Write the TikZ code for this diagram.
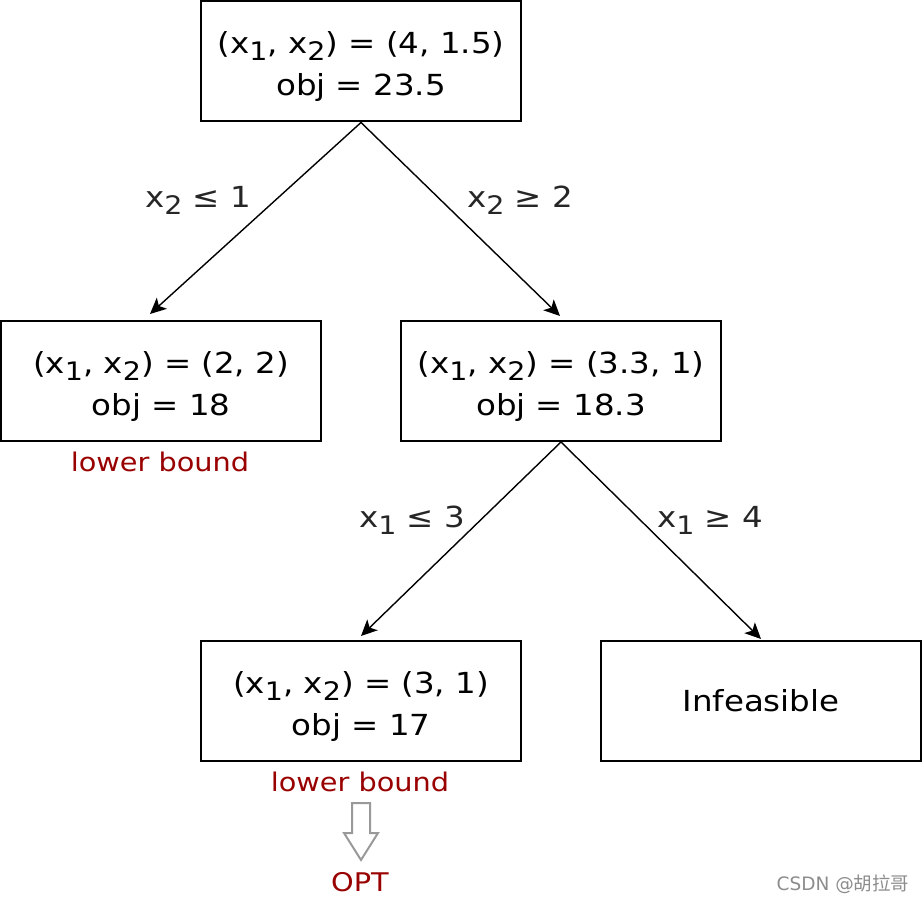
\documentclass[tikz,border=0pt]{standalone}
\usepackage{fontspec}
\setmainfont[FakeStretch=1.12]{DejaVu Sans}
\newfontfamily\plain{DejaVu Sans}
\newfontfamily\cjk{Noto Sans CJK SC}
\usetikzlibrary{arrows.meta}
\definecolor{lbred}{HTML}{990000}
\newcommand{\xs}[1]{x\raisebox{-0.45ex}{\fontsize{25.5}{27}\selectfont #1}}
\newcommand{\twol}[2]{\raisebox{-5pt}[\height][\depth]{\begin{tabular}{@{}c@{}}#1\\[2pt]#2\end{tabular}}}
\begin{document}
\begin{tikzpicture}[x=1pt,y=-1pt,
  box/.style={draw=black,line width=2pt,minimum width=320pt,minimum height=120pt,inner sep=0pt,align=center,font=\fontsize{29}{40}\selectfont},
  edge/.style={line width=1.4pt,-{Stealth[length=16pt,width=15pt,inset=4pt]}},
  elabel/.style={font=\fontsize{29}{32}\selectfont,text=black!85},
  lb/.style={font=\fontsize{25.7}{30}\selectfont,text=lbred}]
\useasboundingbox (0,0) rectangle (924,904);
\node[box] (root) at (361,61.5) {\twol{(\xs{1}, \xs{2}) = (4, 1.5)}{obj = 23.5}};
\node[box] (left) at (161,381) {\twol{(\xs{1}, \xs{2}) = (2, 2)}{obj = 18}};
\node[box] (mid) at (561,381) {\twol{(\xs{1}, \xs{2}) = (3.3, 1)}{obj = 18.3}};
\node[box] (bl) at (361,701) {\twol{(\xs{1}, \xs{2}) = (3, 1)}{obj = 17}};
\node[box] (inf) at (761,701) {Infeasible};
\coordinate (t1) at (150,314);
\coordinate (t2) at (560,316);
\coordinate (t3) at (361,636);
\coordinate (t4) at (761,639);
\draw[edge] (root.south) -- (t1);
\draw[edge] (root.south) -- (t2);
\draw[edge] (mid.south) -- (t3);
\draw[edge] (mid.south) -- (t4);
\node[elabel] (l1) at (198,200) {\xs{2} ≤ 1};
\node[elabel] (l2) at (520,200) {\xs{2} ≥ 2};
\node[elabel] (l3) at (412,520) {\xs{1} ≤ 3};
\node[elabel] (l4) at (710,520) {\xs{1} ≥ 4};
\node[lb] (lb1) at (160,462) {lower bound};
\node[lb] (lb2) at (360,782) {lower bound};
\draw[draw=black!40,fill=white,line width=2pt,line join=miter]
  (352,803) -- (370,803) -- (370,833) -- (378,833) -- (361,860) -- (344,833) -- (352,833) -- cycle;
\node[lb] (opt) at (360,882) {OPT};
\node[font=\plain\fontsize{18.5}{22}\selectfont,text=black!45] (wm) at (843,884) {CSDN @{\cjk 胡拉哥}};
\end{tikzpicture}
\end{document}
